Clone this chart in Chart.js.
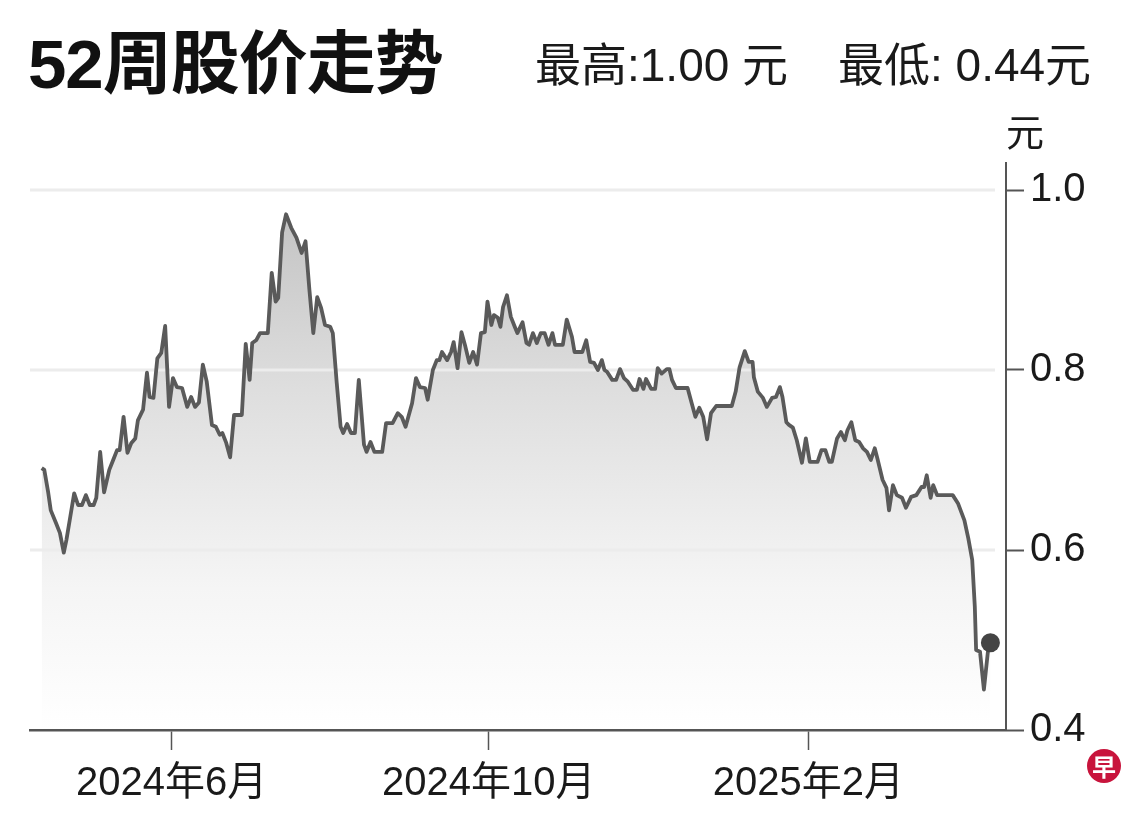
<!DOCTYPE html>
<html>
<head>
<meta charset="utf-8">
<script src="https://cdn.jsdelivr.net/npm/chart.js@4.4.1/dist/chart.umd.min.js"></script>
<style>
  body { margin: 0; background: #fff; }
  #wrap { position: relative; width: 1140px; height: 817px; overflow: hidden; }
  #wrap canvas { position: absolute; left: 0; top: 0; }
  .txt { position: absolute; color: #1a1a1a; white-space: pre; line-height: 1;
         font-family: 'Liberation Sans', 'Noto Sans CJK SC', sans-serif; }
  #title { left: 28px; top: 30px; font-size: 69px; font-weight: bold; color: #111; letter-spacing: -1px; }
  #hi { left: 535px; top: 42px; font-size: 46px; }
  #lo { left: 838px; top: 42px; font-size: 46px; }
  #unit { left: 1006px; top: 114px; font-size: 38px; }
  #logo { position: absolute; left: 1087px; top: 749px; width: 34px; height: 34px; border-radius: 50%;
          background: #c8143c; color: #fff; font: bold 24px 'Noto Sans CJK SC', sans-serif;
          text-align: center; line-height: 34px; }
</style>
</head>
<body>
<div id="wrap">
  <canvas id="grafico" width="1140" height="817"></canvas>
  <div class="txt" id="title">52周股价走势</div>
  <div class="txt" id="hi">最高:1.00 元</div>
  <div class="txt" id="lo">最低: 0.44元</div>
  <div class="txt" id="unit">元</div>
  <div id="logo">早</div>
</div>
<script>
// giorni dal 12/04/2024 e prezzo di chiusura (元)
const giorni = [
  0, 1, 2.5, 3.5, 5.5, 7, 8.5, 9.5, 11, 12.5, 14, 15.5, 17, 18.5, 20, 21, 22.5, 24, 26, 27.5,
  29, 30, 31.5, 33, 34.5, 36, 37, 39, 40.5, 41.5, 43, 44.5, 46, 47.5, 49, 50.5, 52, 54, 56, 57.5,
  59, 60.5, 62, 63.5, 65.5, 67, 68.5,
  69.5, 71, 72.5, 74, 75.5, 77, 78.5, 80, 81, 82.5, 84, 87, 88.5, 90, 91, 92.5, 94, 96, 98, 100,
  101.5, 103, 104.5, 106, 107.5, 109, 111, 112, 113.5, 115, 116, 117.5, 119, 120.5, 122, 124, 125, 126.5, 128, 131,
  132.5, 135,
  137, 138.5, 140, 142.5, 144, 145.5, 147.5, 148.5, 150.5, 152, 153, 154, 156, 157.5, 158.5, 160, 161.5, 163, 164.5, 166,
  167.5, 169, 170.5, 171.5, 173, 174, 175.5, 176.5, 177.5, 179, 180.5, 182, 183, 185, 186.5, 187.5, 189, 190.5, 192, 193.5,
  195, 196.5, 197.5, 200.5, 202, 204, 205, 207,
  208, 209.5, 211, 212.5, 214, 215.5, 216.5, 217.5, 219.5, 221, 222.5, 224, 225.5, 227.5, 229, 230, 231.5, 232.5, 234.5, 236,
  237, 238.5, 240.5, 241.5, 242.5, 244, 248.5, 250, 251.5, 253, 254.5, 256, 257.5, 259.5, 265.5, 267, 268.5, 270.5, 272, 273.5,
  274, 275.5, 277.5, 279, 281, 282.5, 284, 285, 286.5, 287.5, 289, 290.5, 292.5, 294, 295.5, 298.5, 300, 301.5, 303, 304,
  306, 307.5, 309, 310, 311.5, 313, 314.5, 316, 317.5, 319, 320.5, 321.5, 323.5, 325, 326, 327.5, 329, 331, 332.5, 334.5,
  336.5, 338.5, 339.5, 340.5, 342, 343, 344.5, 350.5, 352.5, 355, 356.5, 358, 359, 359.5, 361, 362.5, 364, 365
];
const prezzi = [
  0.691, 0.689, 0.664, 0.644, 0.630, 0.619, 0.597, 0.611, 0.637, 0.663, 0.650, 0.650, 0.661, 0.650, 0.650, 0.658, 0.709, 0.664, 0.689, 0.700,
  0.711, 0.711, 0.748, 0.708, 0.719, 0.724, 0.744, 0.756, 0.797, 0.770, 0.769, 0.813, 0.819, 0.849, 0.759, 0.791, 0.781, 0.780, 0.759, 0.770,
  0.759, 0.764, 0.806, 0.787, 0.739, 0.737, 0.728,
  0.730, 0.719, 0.703, 0.750, 0.750, 0.750, 0.829, 0.789, 0.830, 0.833, 0.841, 0.841, 0.908, 0.876, 0.880, 0.953, 0.973, 0.958, 0.947, 0.930,
  0.943, 0.889, 0.841, 0.881, 0.869, 0.850, 0.848, 0.841, 0.786, 0.737, 0.730, 0.740, 0.730, 0.730, 0.789, 0.717, 0.709, 0.720, 0.709, 0.709,
  0.741, 0.741,
  0.752, 0.748, 0.737, 0.763, 0.791, 0.781, 0.780, 0.767, 0.800, 0.811, 0.811, 0.820, 0.811, 0.820, 0.831, 0.802, 0.842, 0.826, 0.808, 0.820,
  0.806, 0.841, 0.842, 0.876, 0.850, 0.861, 0.858, 0.848, 0.870, 0.883, 0.859, 0.848, 0.841, 0.853, 0.830, 0.828, 0.841, 0.830, 0.841, 0.841,
  0.828, 0.841, 0.828, 0.828, 0.856, 0.837, 0.820, 0.820,
  0.820, 0.833, 0.809, 0.808, 0.800, 0.811, 0.800, 0.798, 0.789, 0.789, 0.801, 0.791, 0.787, 0.778, 0.778, 0.790, 0.779, 0.790, 0.779, 0.779,
  0.802, 0.796, 0.801, 0.801, 0.789, 0.780, 0.780, 0.764, 0.748, 0.758, 0.748, 0.723, 0.752, 0.760, 0.760, 0.776, 0.803, 0.821, 0.809, 0.809,
  0.792, 0.776, 0.769, 0.759, 0.769, 0.770, 0.781, 0.770, 0.742, 0.739, 0.736, 0.722, 0.697, 0.724, 0.698, 0.698, 0.711, 0.711, 0.698, 0.698,
  0.724, 0.731, 0.722, 0.733, 0.742, 0.722, 0.720, 0.713, 0.709, 0.700, 0.713, 0.702, 0.678, 0.669, 0.644, 0.672, 0.661, 0.658, 0.647, 0.659,
  0.661, 0.670, 0.670, 0.683, 0.658, 0.672, 0.661, 0.661, 0.652, 0.633, 0.613, 0.589, 0.537, 0.489, 0.487, 0.445, 0.486, 0.497
];
const giorniTick = [50, 172, 295];
const etichetteTick = ['2024年6月', '2024年10月', '2025年2月'];
const valoriY = [0.4, 0.6, 0.8, 1.0];

function creaGraficoPrezzo(idCanvas) {
    const ctx = document.getElementById(idCanvas).getContext('2d');
    const punti = giorni.map((g, i) => ({ x: g, y: prezzi[i] }));
    const ultimo = punti.length - 1;

    const riempimento = (context) => {
        const area = context.chart.chartArea;
        if (!area) return 'rgba(210,210,210,0.6)';
        const g = context.chart.ctx.createLinearGradient(0, area.top, 0, area.bottom);
        g.addColorStop(0, '#bcbcbc');
        g.addColorStop(0.4, '#dedede');
        g.addColorStop(0.75, '#f5f5f5');
        g.addColorStop(1, '#ffffff');
        return g;
    };

    // righe orizzontali sopra il riempimento ma sotto la linea
    const griglia = {
        id: 'griglia',
        beforeDatasetDraw(chart) {
            const y = chart.scales.y;
            const area = chart.chartArea;
            const c = chart.ctx;
            c.save();
            c.strokeStyle = '#ececec';
            c.lineWidth = 3;
            valoriY.filter(v => v > 0.4).forEach(v => {
                const py = y.getPixelForValue(v);
                c.beginPath();
                c.moveTo(area.left, py);
                c.lineTo(area.right - 11, py);
                c.stroke();
            });
            c.restore();
        }
    };

    new Chart(ctx, {
        type: 'line',
        data: {
            datasets: [{
                data: punti,
                borderColor: '#5a5a5a',
                borderWidth: 3.8,
                borderJoinStyle: 'round',
                backgroundColor: riempimento,
                fill: 'start',
                tension: 0,
                pointRadius: (c) => c.dataIndex === ultimo ? 9.5 : 0,
                pointBackgroundColor: '#444',
                pointBorderColor: '#444',
                pointBorderWidth: 0
            }]
        },
        plugins: [griglia],
        options: {
            responsive: false,
            animation: false,
            layout: { padding: { left: 30, top: 163, right: 0, bottom: 0 } },
            plugins: {
                legend: { display: false },
                tooltip: { enabled: false }
            },
            scales: {
                x: {
                    type: 'linear',
                    min: -4.5,
                    max: 371,
                    afterBuildTicks: (scale) => { scale.ticks = giorniTick.map(v => ({ value: v })); },
                    afterFit: (scale) => { scale.height = 87; },
                    border: { color: '#555', width: 2.5, z: 1 },
                    grid: { drawOnChartArea: false, drawTicks: true, tickLength: 20, tickColor: '#555', tickWidth: 1.5 },
                    ticks: {
                        autoSkip: false,
                        maxRotation: 0,
                        padding: 10,
                        color: '#1a1a1a',
                        font: { family: "'Liberation Sans', 'Noto Sans CJK SC', sans-serif", size: 40 },
                        callback: (v) => etichetteTick[giorniTick.indexOf(v)]
                    }
                },
                y: {
                    position: 'right',
                    min: 0.4,
                    max: 1.03,
                    afterBuildTicks: (scale) => { scale.ticks = valoriY.map(v => ({ value: v })); },
                    afterFit: (scale) => { scale.width = 134; },
                    border: { color: '#555', width: 2, z: 1 },
                    grid: {
                        drawOnChartArea: false,
                        tickLength: 18,
                        tickColor: '#555',
                        tickWidth: 2
                    },
                    ticks: {
                        padding: 6,
                        color: '#1a1a1a',
                        font: { family: "'Liberation Sans', sans-serif", size: 40 },
                        callback: (v) => v.toFixed(1)
                    }
                }
            }
        }
    });
}

creaGraficoPrezzo('grafico');
</script>
</body>
</html>
